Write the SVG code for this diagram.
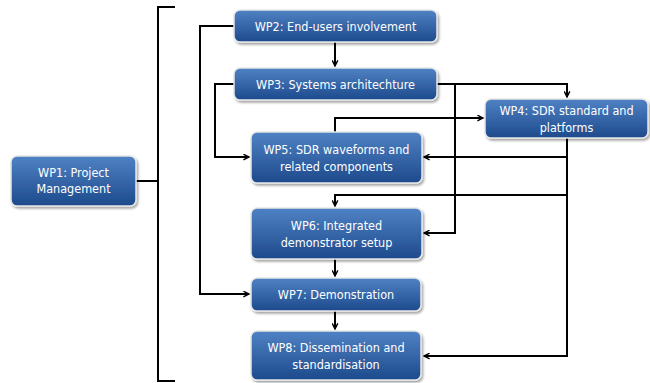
<svg xmlns="http://www.w3.org/2000/svg" width="650" height="383" viewBox="0 0 650 383">
<defs>
<linearGradient id="g" x1="0" y1="0" x2="0" y2="1">
<stop offset="0" stop-color="#4f82c4"/>
<stop offset="1" stop-color="#1d4a8c"/>
</linearGradient>
<marker id="a" viewBox="0 0 10 10" refX="9" refY="5" markerWidth="7" markerHeight="7" markerUnits="userSpaceOnUse" orient="auto">
<path d="M1,1 L9,5 L1,9" fill="none" stroke="#000" stroke-width="2"/>
</marker>
<filter id="s" x="-10%" y="-10%" width="120%" height="130%">
<feDropShadow dx="1.5" dy="2" stdDeviation="1" flood-color="#000" flood-opacity="0.35"/>
</filter>
</defs>
<style>
.box{fill:url(#g);stroke:#e6e6e6;stroke-width:1.5;filter:url(#s)}
.t{font-family:"DejaVu Sans Condensed","DejaVu Sans",sans-serif;font-size:12.5px;fill:#fff;text-anchor:middle}
.c{fill:none;stroke:#000;stroke-width:2}
</style>
<rect width="650" height="383" fill="#fff"/>
<g id="connectors">
<path class="c" d="M175,7 H158 V381 H175"/>
<path class="c" d="M136,181 H158"/>
<path class="c" d="M234,26 H200 V294 H249" marker-end="url(#a)"/>
<path class="c" d="M234,84 H215 V157 H249" marker-end="url(#a)"/>
<path class="c" d="M335,42 V66" marker-end="url(#a)"/>
<path class="c" d="M437,84 H567 V97" marker-end="url(#a)"/>
<path class="c" d="M455,84 V233 H424" marker-end="url(#a)"/>
<path class="c" d="M335,132 V118 H483" marker-end="url(#a)"/>
<path class="c" d="M567,138 V356 H424" marker-end="url(#a)"/>
<path class="c" d="M567,157 H424" marker-end="url(#a)"/>
<path class="c" d="M567,195 H335 V206" marker-end="url(#a)"/>
<path class="c" d="M335,259 V276" marker-end="url(#a)"/>
<path class="c" d="M335,311 V329" marker-end="url(#a)"/>
</g>
<g id="wp1"><rect class="box" x="11" y="156" width="125" height="50" rx="6"/><text class="t" x="73.5" y="177">WP1: Project</text><text class="t" x="73.5" y="193">Management</text></g>
<g id="wp2"><rect class="box" x="234" y="10" width="203" height="32" rx="6"/><text class="t" x="335.5" y="30.5">WP2: End-users involvement</text></g>
<g id="wp3"><rect class="box" x="234" y="68" width="203" height="32" rx="6"/><text class="t" x="335.5" y="88.5">WP3: Systems architechture</text></g>
<g id="wp4"><rect class="box" x="485" y="99" width="163" height="39" rx="6"/><text class="t" x="566.5" y="115">WP4: SDR standard and</text><text class="t" x="566.5" y="132">platforms</text></g>
<g id="wp5"><rect class="box" x="251" y="132" width="171" height="51" rx="6"/><text class="t" x="336.5" y="154">WP5: SDR waveforms and</text><text class="t" x="336.5" y="171">related components</text></g>
<g id="wp6"><rect class="box" x="251" y="208" width="171" height="51" rx="6"/><text class="t" x="336.5" y="230">WP6: Integrated</text><text class="t" x="336.5" y="247">demonstrator setup</text></g>
<g id="wp7"><rect class="box" x="251" y="278" width="170" height="33" rx="6"/><text class="t" x="336" y="299">WP7: Demonstration</text></g>
<g id="wp8"><rect class="box" x="251" y="331" width="170" height="49" rx="6"/><text class="t" x="336" y="352">WP8: Dissemination and</text><text class="t" x="336" y="369">standardisation</text></g>
</svg>
